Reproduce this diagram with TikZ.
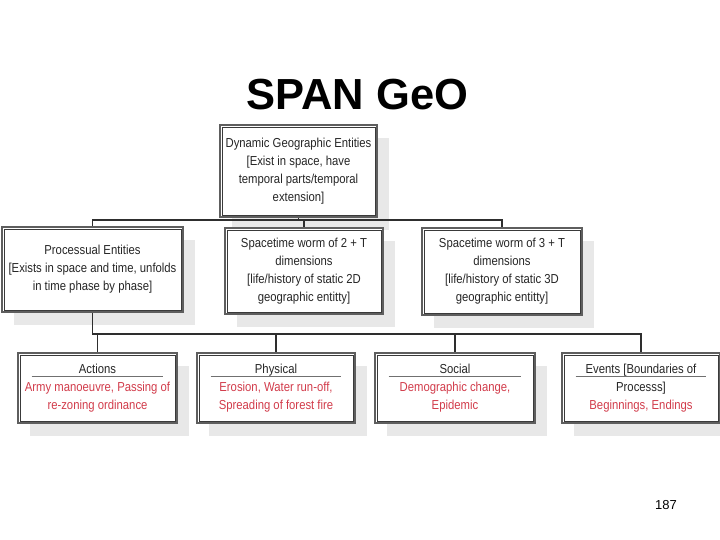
\documentclass[tikz,border=0pt]{standalone}
\usepackage{fontspec}
\setmainfont{Liberation Sans}
\newfontfamily\boxfont[FakeStretch=0.87]{Liberation Sans}
\usetikzlibrary{shadows}
\definecolor{framegray}{HTML}{5E5E5E}
\definecolor{innerdark}{HTML}{3A3A3A}
\definecolor{shadowgray}{HTML}{E8E8E8}
\definecolor{redtext}{HTML}{D23C4B}
\definecolor{linkgray}{HTML}{2E2E2E}
\definecolor{rulegray}{HTML}{707070}
\begin{document}
\begin{tikzpicture}[x=1pt,y=-1pt,
  box/.style={draw=framegray, line width=2.8pt, fill=white, inner sep=0pt, align=center,
    font=\boxfont\fontsize{13}{18}\selectfont, text=black!85,
    drop shadow={shadow xshift=12pt, shadow yshift=-13pt, fill=shadowgray, opacity=1}},
  innerframe/.style={draw=innerdark, line width=0.8pt},
  link/.style={draw=linkgray, line width=1.3pt},
  sectionrule/.style={draw=rulegray, line width=1.6pt}
]
\useasboundingbox (0,0) rectangle (720,540);
\fill[white] (0,0) rectangle (720,540);

\node[anchor=base, font=\bfseries\fontsize{43.5}{50}\selectfont] (title) at (357.5,110) {SPAN GeO};

\node[box, minimum width=157pt, minimum height=92pt] (top) at (298.5,171)
  {Dynamic Geographic Entities\\{[}Exist in space, have\\temporal parts/temporal\\extension]};

\node[box, minimum width=181pt, minimum height=85pt] (proc) at (92.5,269.5)
  {Processual Entities\\{[}Exists in space and time, unfolds\\in time phase by phase]};
\node[box, minimum width=158pt, minimum height=86pt] (two) at (304,271)
  {Spacetime worm of 2 + T\\dimensions\\{[}life/history of static 2D\\geographic entitty]};
\node[box, minimum width=160pt, minimum height=87pt] (three) at (502,271.5)
  {Spacetime worm of 3 + T\\dimensions\\{[}life/history of static 3D\\geographic entitty]};

\node[box, minimum width=159pt, minimum height=70pt] (act) at (97.5,388)
  {Actions\\\textcolor{redtext}{Army manoeuvre, Passing of}\\\textcolor{redtext}{re-zoning ordinance}};
\node[box, minimum width=158pt, minimum height=70pt] (phys) at (276,388)
  {Physical\\\textcolor{redtext}{Erosion, Water run-off,}\\\textcolor{redtext}{Spreading of forest fire}};
\node[box, minimum width=160pt, minimum height=70pt] (soc) at (455,388)
  {Social\\\textcolor{redtext}{Demographic change,}\\\textcolor{redtext}{Epidemic}};
\node[box, minimum width=158pt, minimum height=70pt] (evt) at (641,388)
  {Events [Boundaries of\\Processs]\\\textcolor{redtext}{Beginnings, Endings}};

\foreach \n in {top,proc,two,three,act,phys,soc,evt}
  \draw[innerframe] ([shift={(3.4,3.4)}]\n.north west) rectangle ([shift={(-3.4,-3.4)}]\n.south east);

\foreach \n in {act,phys,soc,evt}
  \draw[sectionrule] ([shift={(15,25)}]\n.north west) -- ([shift={(-15,25)}]\n.north east);

\coordinate (busA) at (0,220);
\coordinate (busB) at (0,334);
\draw[link] (top.south) -- (top.south |- busA);
\draw[link] (proc.north) -- (proc.north |- busA) -- (three.north |- busA) -- (three.north);
\draw[link] (two.north |- busA) -- (two.north);
\draw[link] (proc.south) -- (proc.south |- busB) -- (evt.north |- busB) -- (evt.north);
\draw[link] (act.north |- busB) -- (act.north);
\draw[link] (phys.north |- busB) -- (phys.north);
\draw[link] (soc.north |- busB) -- (soc.north);

\node[anchor=base, font=\fontsize{13}{15}\selectfont] (page) at (666,509) {187};
\end{tikzpicture}
\end{document}
